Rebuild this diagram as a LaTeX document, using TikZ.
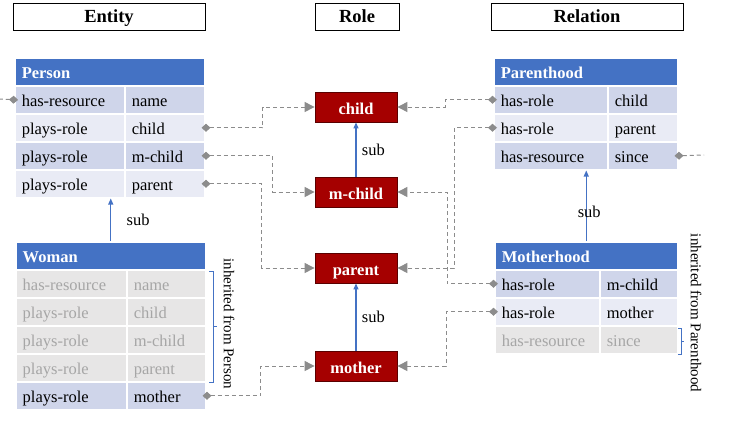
\documentclass[tikz,border=0pt]{standalone}
\usepackage{fontspec}
\setmainfont{Liberation Serif}
\usetikzlibrary{arrows.meta, positioning, calc}
\definecolor{chead}{HTML}{4472C4}
\definecolor{crowa}{HTML}{CFD5EA}
\definecolor{crowb}{HTML}{E9EBF5}
\definecolor{crowg}{HTML}{E7E6E6}
\definecolor{ctextg}{HTML}{A6A6A6}
\definecolor{cgrey}{HTML}{8C8C8C}
\definecolor{crole}{HTML}{A50000}
\definecolor{croleb}{HTML}{5A0000}
\tikzset{
  every picture/.style={font=\fontsize{16.5}{19}\selectfont, line width=1pt},
  title/.style={draw=black, line width=0.9pt, minimum height=27pt, text height=14pt, text depth=3pt, font=\fontsize{18.5}{22}\selectfont\bfseries},
  head/.style={fill=chead, draw=white, line width=1.5pt, text=white, anchor=north west, minimum height=28pt, inner xsep=7pt, inner ysep=0pt, text height=16pt, text depth=2pt, align=left, font=\fontsize{16.5}{19}\selectfont\bfseries},
  cell/.style={fill=#1, draw=white, line width=1.5pt, anchor=north west, minimum height=28pt, inner xsep=7pt, inner ysep=0pt, text height=16pt, text depth=2pt, align=left},
  role/.style={fill=crole, draw=croleb, line width=0.8pt, text=white, minimum width=82pt, minimum height=30pt, text height=16pt, text depth=2pt, font=\fontsize{16.5}{19}\selectfont\bfseries},
  link/.style={draw=cgrey, dash pattern=on 4pt off 3pt, line width=1pt, shorten <=-4pt, {Diamond[length=9pt,width=8pt]}-{Triangle[length=10pt,width=10pt]}},
  stub/.style={draw=cgrey, dash pattern=on 4pt off 3pt, line width=1pt, shorten <=-4pt, {Diamond[length=9pt,width=8pt]}-},
  sub/.style={draw=chead, line width=1.1pt, -{Triangle[length=6pt,width=5pt]}},
  bracket/.style={draw=chead, line width=0.8pt},
  vlabel/.style={rotate=-90, font=\fontsize{15}{18}\selectfont},
}

\begin{document}
\begin{tikzpicture}[x=1pt, y=-1pt]
  \useasboundingbox (0,0) rectangle (731,421);
  % ---------- titles ----------
  \node[title, minimum width=192pt] (tent) at (109,16.5) {Entity};
  \node[title, minimum width=84pt] (trole) at (357,16.5) {Role};
  \node[title, minimum width=192pt] (trel) at (587,16.5) {Relation};
  % ---------- entity: Person ----------
  \node[head, text width=176pt] (person) at (14,57) {Person};
  \foreach \i/\l/\r/\c in {1/has-resource/name/crowa, 2/plays-role/child/crowb, 3/plays-role/m-child/crowa, 4/plays-role/parent/crowb} {
    \node[cell=\c, text width=96pt] (pl\i) at (14,{57+28*\i}) {\l};
    \node[cell=\c, text width=66pt] (pr\i) at (124,{57+28*\i}) {\r};
  }
  % ---------- entity: Woman ----------
  \node[head, text width=176pt] (woman) at (15,241) {Woman};
  \foreach \i/\l/\r/\c/\t in {1/has-resource/name/crowg/ctextg, 2/plays-role/child/crowg/ctextg, 3/plays-role/m-child/crowg/ctextg, 4/plays-role/parent/crowg/ctextg, 5/plays-role/mother/crowa/black} {
    \node[cell=\c, text=\t, text width=97pt] (wl\i) at (15,{241+28*\i}) {\l};
    \node[cell=\c, text=\t, text width=65pt] (wr\i) at (126,{241+28*\i}) {\r};
  }
  \draw[sub] (woman.north) -- node[right=12pt] {sub} (woman.north |- pl4.south);
  \draw[bracket] (209,271) -- (213,271) -- (213,382) -- (209,382) (213,326.5) -- (217,326.5);
  \node[vlabel] (inhp) at (229,324) {inherited from Person};
  % ---------- relation: Parenthood ----------
  \node[head, text width=170pt] (parenthood) at (493,57) {Parenthood};
  \foreach \i/\l/\r/\c in {1/has-role/child/crowa, 2/has-role/parent/crowb, 3/has-resource/since/crowa} {
    \node[cell=\c, text width=100pt] (pal\i) at (493,{57+28*\i}) {\l};
    \node[cell=\c, text width=56pt] (par\i) at (607,{57+28*\i}) {\r};
  }
  % ---------- relation: Motherhood ----------
  \node[head, text width=169pt] (motherhood) at (494,241) {Motherhood};
  \foreach \i/\l/\r/\c/\t in {1/has-role/m-child/crowa/black, 2/has-role/mother/crowb/black, 3/has-resource/since/crowg/ctextg} {
    \node[cell=\c, text=\t, text width=91pt] (mol\i) at (494,{241+28*\i}) {\l};
    \node[cell=\c, text=\t, text width=64pt] (mor\i) at (599,{241+28*\i}) {\r};
  }
  \draw[sub] (motherhood.north) -- node[pos=0.42, xshift=3pt] {sub} (motherhood.north |- par3.south);
  \draw[bracket] (678,328) -- (681,328) -- (681,354) -- (678,354) (681,341) -- (684,341);
  \node[vlabel] (inhr) at (696,313) {inherited from Parenthood};
  % ---------- roles ----------
  \node[role] (child) at (356,107) {child};
  \node[role] (mchild) at (356,192) {m-child};
  \node[role] (parent) at (356,268) {parent};
  \node[role] (mother) at (356,366) {mother};
  \draw[sub] (mchild) -- node[right=2pt] {sub} (child);
  \draw[sub] (mother) -- node[right=2pt] {sub} (parent);
  % ---------- role links ----------
  \coordinate (efree) at (0,99);
  \coordinate (rfree) at (704,155);
  \draw[stub] (pl1.west) -- (efree);
  \draw[link] (pr2.east) -- ++(57,0) |- (child.west);
  \draw[link] (pr3.east) -- ++(67,0) |- (mchild.west);
  \draw[link] (pr4.east) -- ++(56,0) |- (parent.west);
  \draw[link] (wr5.east) -- ++(54,0) |- (mother.west);
  \draw[link] (pal1.west) -- ++(-48,0) |- (child.east);
  \draw[link] (pal2.west) -- ++(-39,0) |- (parent.east);
  \draw[link] (mol1.west) -- ++(-47,0) |- (mchild.east);
  \draw[link] (mol2.west) -- ++(-48,0) |- (mother.east);
  \draw[stub] (par3.east) -- (rfree);
\end{tikzpicture}
\end{document}
